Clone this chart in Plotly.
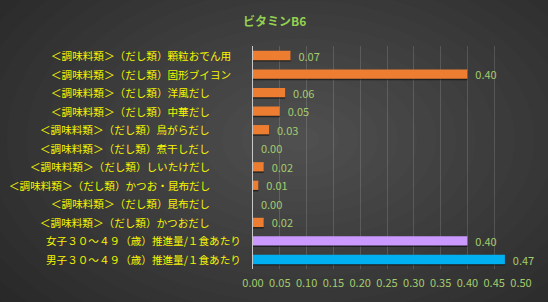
import plotly.graph_objects as go

# ---- data ----
categories = [
    "＜調味料類＞（だし類）顆粒おでん用",
    "＜調味料類＞（だし類）固形ブイヨン",
    "＜調味料類＞（だし類）洋風だし",
    "＜調味料類＞（だし類）中華だし",
    "＜調味料類＞（だし類）鳥がらだし",
    "＜調味料類＞（だし類）煮干しだし",
    "＜調味料類＞（だし類）しいたけだし",
    "＜調味料類＞（だし類）かつお・昆布だし",
    "＜調味料類＞（だし類）昆布だし",
    "＜調味料類＞（だし類）かつおだし",
    "女子３０～４９（歳）推進量/１食あたり",
    "男子３０～４９（歳）推進量/１食あたり",
]
values = [0.07, 0.40, 0.06, 0.05, 0.03, 0.00, 0.02, 0.01, 0.00, 0.02, 0.40, 0.47]
tick_vals = [0.00, 0.05, 0.10, 0.15, 0.20, 0.25, 0.30, 0.35, 0.40, 0.45, 0.50]
title_text = "ビタミンB6"

# ---- styles ----
ORANGE, PURPLE, BLUE = "#ed7d31", "#cc99ff", "#00b0f0"
bar_colors = [ORANGE] * 10 + [PURPLE, BLUE]
label_shift = [-20, -20] + [-41] * 8 + [-10, -10]
W, H = 548, 302
ML, MR, MT, MB = 253, 27, 46, 31
FONT = "Noto Sans CJK JP"
GREEN_TXT = "#a3cc6e"

fig = go.Figure()

# shadow
fig.add_trace(go.Bar(
    x=values, y=categories, orientation="h",
    marker=dict(color="rgba(0,0,0,0.5)", line=dict(width=0)),
    width=0.5, offset=-0.17, hoverinfo="skip", showlegend=False,
))
fig.add_trace(go.Bar(
    x=values, y=categories, orientation="h",
    marker=dict(color=bar_colors, line=dict(width=0)),
    width=0.5,
    text=values, texttemplate="\u00a0\u00a0%{x:.2f}", textposition="outside",
    textfont=dict(color=GREEN_TXT, size=11, family=FONT),
    constraintext="none",
    cliponaxis=False, showlegend=False,
))

# radial-ish background via concentric ellipses
pw, ph = W - ML - MR, H - MT - MB
def px2x(p):
    return (p - ML) / pw
def py2y(p):
    return (H - MB - p) / ph

shapes = []
cx, cy = 300, 140
N = 22
for i in range(N):
    f = 1 - i / N
    rx, ry = 430 * f, 280 * f
    shapes.append(dict(
        type="circle", xref="paper", yref="paper",
        x0=px2x(cx - rx), x1=px2x(cx + rx),
        y0=py2y(cy + ry), y1=py2y(cy - ry),
        fillcolor="rgba(255,255,255,0.011)", line=dict(width=0),
        layer="below",
    ))

annotations = []
for cat, sh in zip(categories, label_shift):
    annotations.append(dict(
        x=0, xref="paper", y=cat, yref="y", text=cat, showarrow=False,
        xanchor="right", xshift=sh,
        font=dict(color="#f5f500", size=10.6, family=FONT),
    ))
annotations.append(dict(
    x=px2x(274), xref="paper", y=py2y(20), yref="paper", text="<b>" + title_text + "</b>",
    showarrow=False, xanchor="center", yanchor="middle",
    font=dict(color="#92d050", size=12, family=FONT),
))

fig.update_layout(
    width=W, height=H,
    margin=dict(l=ML, r=MR, t=MT, b=MB),
    paper_bgcolor="#232323",
    plot_bgcolor="rgba(0,0,0,0)",
    barmode="overlay",
    shapes=shapes,
    annotations=annotations,
    xaxis=dict(
        range=[0, 0.5], tickvals=tick_vals, tickformat=".2f",
        showgrid=True, gridcolor="rgba(255,255,255,0.14)", gridwidth=1,
        zeroline=False, showline=False, ticks="",
        tickfont=dict(color=GREEN_TXT, size=11, family=FONT),
        ticklabelstandoff=6,
    ),
    yaxis=dict(
        categoryorder="array", categoryarray=categories, autorange="reversed",
        showticklabels=False, showgrid=False, zeroline=False,
        showline=True, linecolor="#c8c8c8", linewidth=1, ticks="",
    ),
    font=dict(family=FONT),
)

fig.write_html("out.html")
